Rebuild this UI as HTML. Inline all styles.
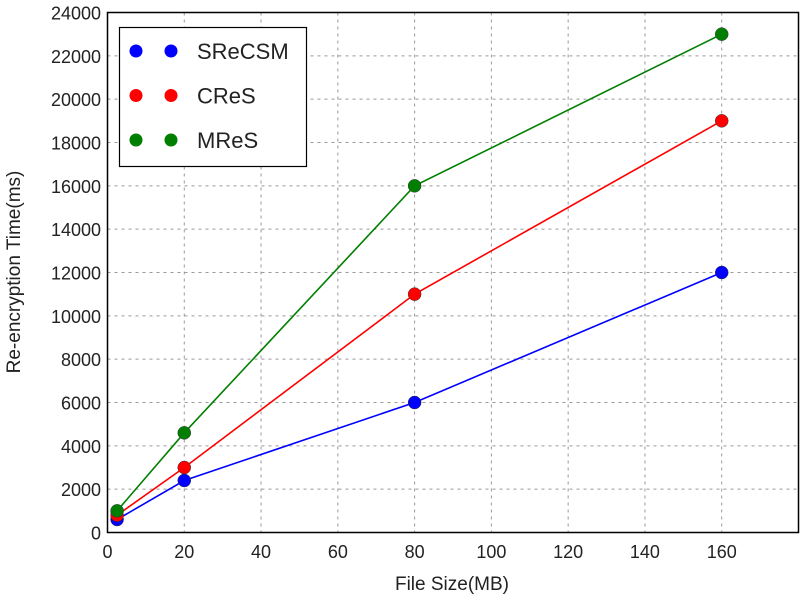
<!DOCTYPE html>
<html><head><meta charset="utf-8"><style>
body{margin:0;background:#fff;}
text{font-family:"Liberation Sans",sans-serif;fill:#222;}
</style></head><body>
<svg id="chart" width="800" height="600">
<g id="grid"></g>
<g id="ticks"></g>
<g id="series"></g>
<rect x="107.5" y="12.5" width="691" height="520" fill="none" stroke="#000" stroke-width="1.5"/>
<text x="452" y="590" font-size="19" text-anchor="middle">File Size(MB)</text>
<text transform="translate(20,272) rotate(-90)" font-size="19" text-anchor="middle">Re-encryption Time(ms)</text>
<g>
<rect x="119.5" y="27.5" width="187" height="139" fill="#fff" stroke="#000" stroke-width="1.2"/>
<g id="legend-items"></g>
</g>
</svg>
<script>
const categories=[2.5,20,80,160];
const seriesNames=["SReCSM","CReS","MReS"];
const seriesColors=["#0000ff","#ff0000","#007f00"];
const sreCSM=[600,2400,6000,12000];
const cres=[800,3000,11000,19000];
const mres=[1000,4600,16000,23000];
const xTicks=[0,20,40,60,80,100,120,140,160];
const yTicks=[0,2000,4000,6000,8000,10000,12000,14000,16000,18000,20000,22000,24000];
const L=107.5,R=798.5,T=12.5,B=532.5,XMAX=180,YMAX=24000;
const sx=v=>L+v/XMAX*(R-L), sy=v=>B-v/YMAX*(B-T);
const NS="http://www.w3.org/2000/svg";
function mk(tag,at,parent){const e=document.createElementNS(NS,tag);for(const k in at)e.setAttribute(k,at[k]);parent.appendChild(e);return e;}
const grid=document.getElementById('grid'),ticks=document.getElementById('ticks'),ser=document.getElementById('series');
xTicks.forEach(v=>{const x=sx(v);
 if(v>0){const g=mk('line',{x1:x,x2:x,y1:T,y2:B,stroke:'#999','stroke-dasharray':'3,4'},grid);
 
 }
 const t=mk('text',{x:x,y:558,'font-size':18,'text-anchor':'middle'},ticks);t.textContent=v;
 
 
});
yTicks.forEach(v=>{const y=sy(v);
 if(v>0&&v<YMAX){const g=mk('line',{x1:L,x2:R,y1:y,y2:y,stroke:'#999','stroke-dasharray':'3,4'},grid);
 
 }
 const t=mk('text',{x:101,y:y+7,'font-size':18,'text-anchor':'end'},ticks);t.textContent=v;
 
 
});
[sreCSM,cres,mres].forEach((vals,i)=>{
 const pts=vals.map((v,j)=>sx(categories[j])+','+sy(v)).join(' ');
 const pl=mk('polyline',{points:pts,fill:'none',stroke:seriesColors[i],'stroke-width':1.6},ser);
 
 
 vals.forEach((v,j)=>{const c=mk('circle',{cx:sx(categories[j]),cy:sy(v),r:6.5,fill:seriesColors[i],stroke:'#333','stroke-width':0.5},ser);
  
  });
 const lg=document.getElementById('legend-items'),ly=51+i*44.5;
 const g=mk('g',{},lg);
 
 
 mk('circle',{cx:136,cy:ly,r:6.5,fill:seriesColors[i]},g);
 mk('circle',{cx:171,cy:ly,r:6.5,fill:seriesColors[i]},g);
 const t=mk('text',{x:197,y:ly+8,'font-size':22},g);t.textContent=seriesNames[i];
});
</script>
</body></html>
